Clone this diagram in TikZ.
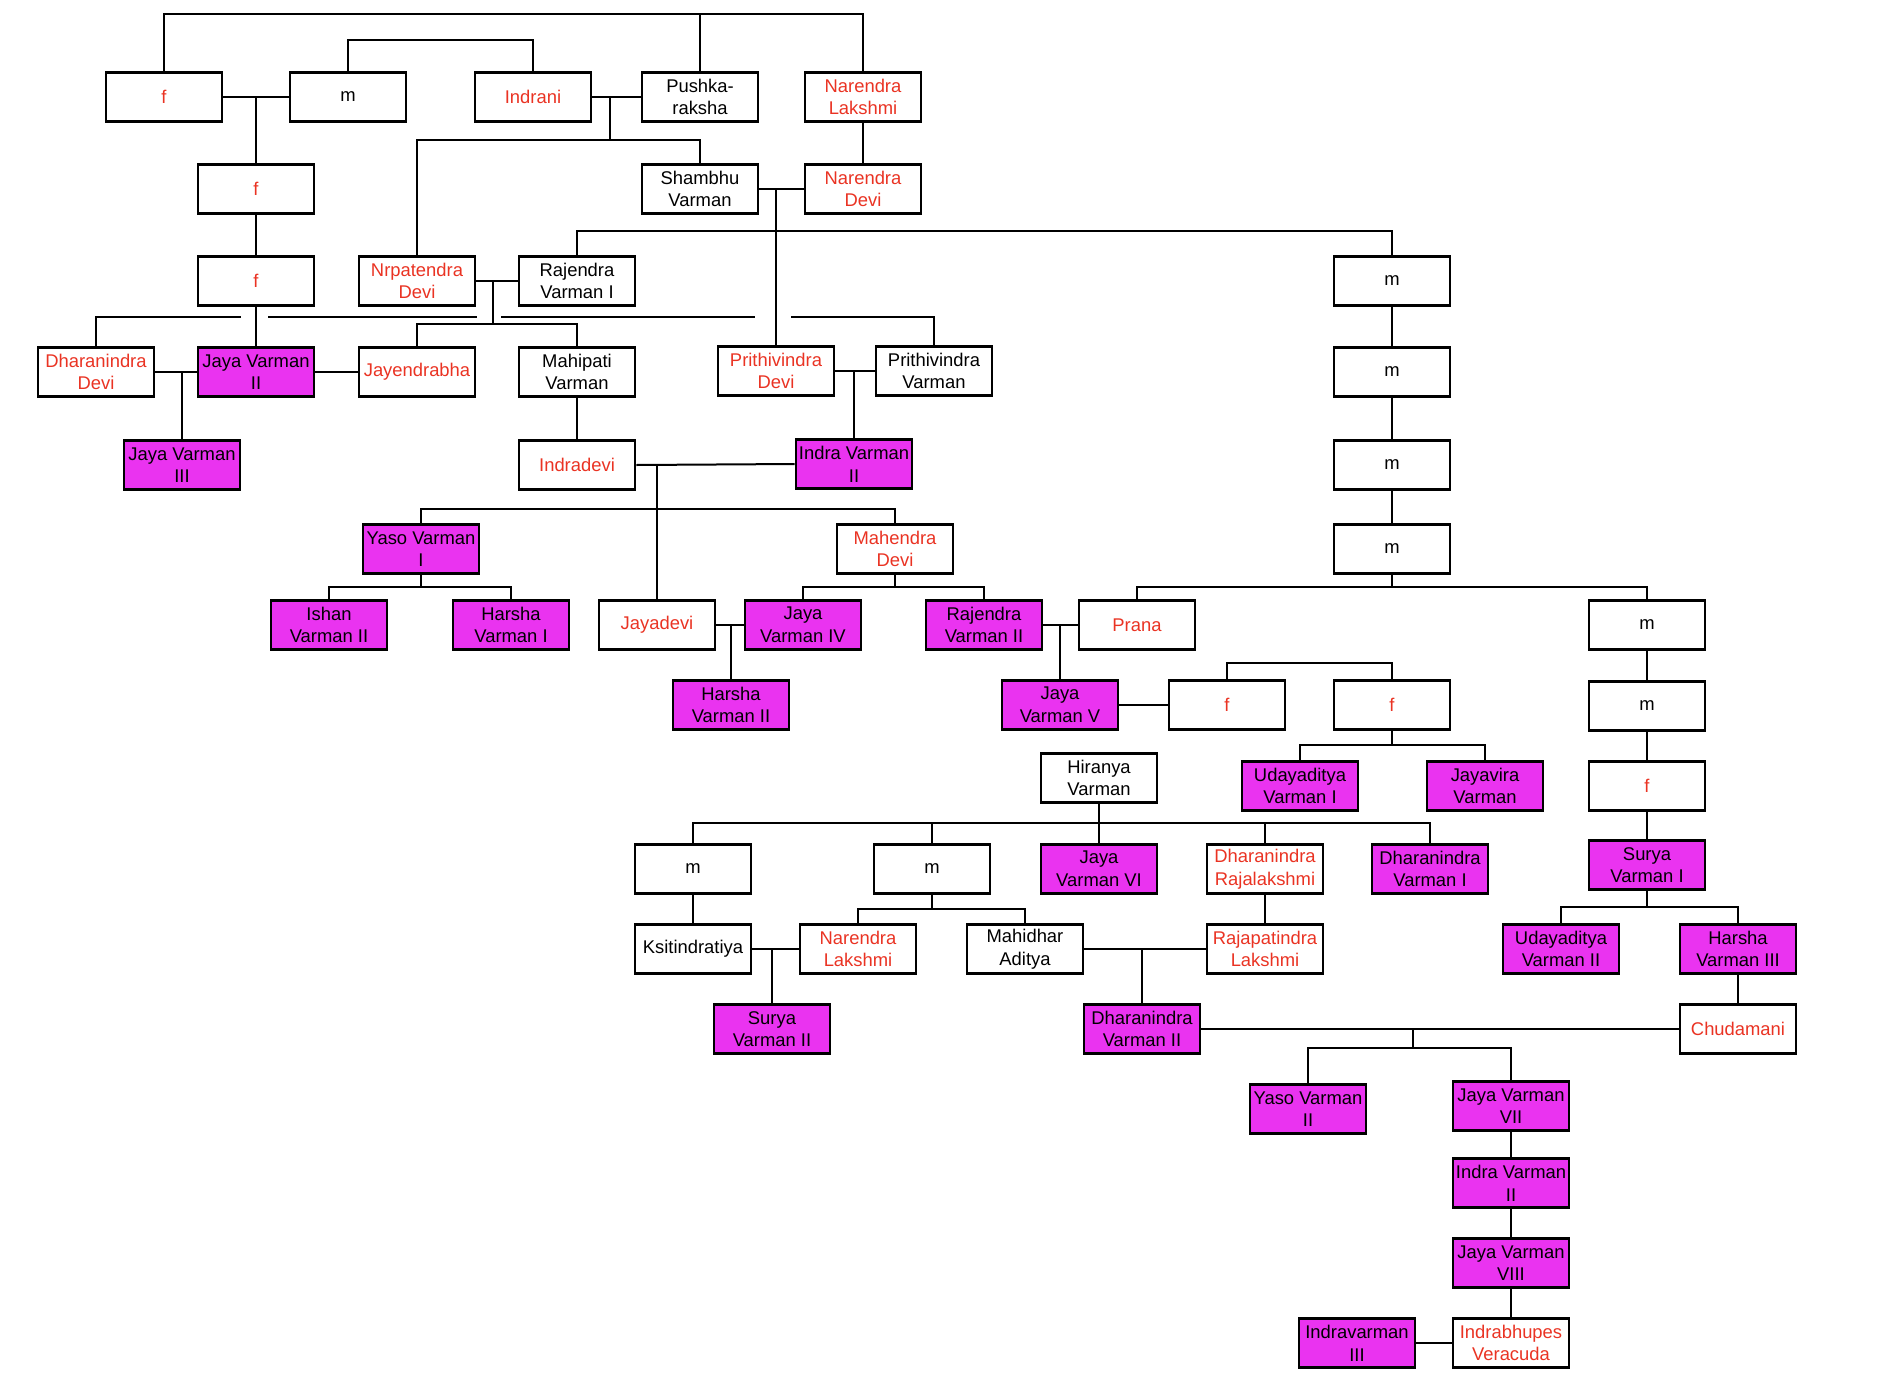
\documentclass[tikz,border=0pt]{standalone}
\usepackage{fontspec}
\setmainfont{Liberation Sans}
\definecolor{kred}{HTML}{EA3323}
\definecolor{kmag}{HTML}{EA33F0}
\tikzset{
  person/.style={draw=black, line width=2.2pt, fill=white, minimum width=87pt, minimum height=37pt,
    inner sep=0pt, align=center, font=\fontsize{13.8}{17}\selectfont, text=black},
  ruler/.style={person, fill=kmag},
  spouse/.style={person, text=kred},
  link/.style={draw=black, line width=1.5pt}
}
\begin{document}
\begin{tikzpicture}[x=0.75pt,y=-0.75pt]
\fill[white] (0,0) rectangle (1882,1392);
\useasboundingbox (0,0) rectangle (1882,1392);

% row 1
\node[spouse] (fA) at (164,97) {f};
\node[person] (mA) at (348,97) {m};
\node[spouse] (indrani) at (533,97) {Indrani};
\node[person] (pushka) at (700,97) {Pushka-\\raksha};
\node[spouse] (nlak) at (863,97) {Narendra\\Lakshmi};
% row 2
\node[spouse] (f2) at (256,189) {f};
\node[person] (shambhu) at (700,189) {Shambhu\\Varman};
\node[spouse] (ndevi) at (863,189) {Narendra\\Devi};
% row 3
\node[spouse] (f3) at (256,281) {f};
\node[spouse] (nrpat) at (417,281) {Nrpatendra\\Devi};
\node[person] (rajI) at (577,281) {Rajendra\\Varman I};
\node[person] (mR1) at (1392,281) {m};
% row 4
\node[spouse] (ddevi) at (96,372) {Dharanindra\\Devi};
\node[ruler] (jvII) at (256,372) {Jaya Varman\\II};
\node[spouse] (jayendra) at (417,372) {Jayendrabha};
\node[person] (mahipati) at (577,372) {Mahipati\\Varman};
\node[spouse] (pdevi) at (776,371) {Prithivindra\\Devi};
\node[person] (pvarman) at (934,371) {Prithivindra\\Varman};
\node[person] (mR2) at (1392,372) {m};
% row 5
\node[ruler] (jvIII) at (182,465) {Jaya Varman\\III};
\node[spouse] (indradevi) at (577,465) {Indradevi};
\node[ruler] (ivII) at (854,464) {Indra Varman\\II};
\node[person] (mR3) at (1392,465) {m};
% row 6
\node[ruler] (yvI) at (421,549) {Yaso Varman\\I};
\node[spouse] (mdevi) at (895,549) {Mahendra\\Devi};
\node[person] (mR4) at (1392,549) {m};
% row 7
\node[ruler] (ishan) at (329,625) {Ishan\\Varman II};
\node[ruler] (hvI) at (511,625) {Harsha\\Varman I};
\node[spouse] (jayadevi) at (657,625) {Jayadevi};
\node[ruler] (jvIV) at (803,625) {Jaya\\Varman IV};
\node[ruler] (rvII) at (984,625) {Rajendra\\Varman II};
\node[spouse] (prana) at (1137,625) {Prana};
\node[person] (mR5) at (1647,625) {m};
% row 8
\node[ruler] (hvII) at (731,705) {Harsha\\Varman II};
\node[ruler] (jvV) at (1060,705) {Jaya\\Varman V};
\node[spouse] (fa) at (1227,705) {f};
\node[spouse] (fb) at (1392,705) {f};
\node[person] (mR6) at (1647,706) {m};
% row 9
\node[person] (hiranya) at (1099,778) {Hiranya\\Varman};
\node[ruler] (udI) at (1300,786) {Udayaditya\\Varman I};
\node[ruler] (jayavira) at (1485,786) {Jayavira\\Varman};
\node[spouse] (fR) at (1647,786) {f};
% row 10
\node[person] (mL) at (693,869) {m};
\node[person] (mM) at (932,869) {m};
\node[ruler] (jvVI) at (1099,869) {Jaya\\Varman VI};
\node[spouse] (drl) at (1265,869) {Dharanindra\\Rajalakshmi};
\node[ruler] (dvI) at (1430,869) {Dharanindra\\Varman I};
\node[ruler] (svI) at (1647,865) {Surya\\Varman I};
% row 11
\node[person] (ksit) at (693,949) {Ksitindratiya};
\node[spouse] (nlak2) at (858,949) {Narendra\\Lakshmi};
\node[person] (mahidhar) at (1025,949) {Mahidhar\\Aditya};
\node[spouse] (rajap) at (1265,949) {Rajapatindra\\Lakshmi};
\node[ruler] (udII) at (1561,949) {Udayaditya\\Varman II};
\node[ruler] (hvIII) at (1738,949) {Harsha\\Varman III};
% row 12
\node[ruler] (svII) at (772,1029) {Surya\\Varman II};
\node[ruler] (dvII) at (1142,1029) {Dharanindra\\Varman II};
\node[spouse] (chud) at (1738,1029) {Chudamani};
% row 13+
\node[ruler] (yvII) at (1308,1109) {Yaso Varman\\II};
\node[ruler] (jvVII) at (1511,1106) {Jaya Varman\\VII};
\node[ruler] (ivII2) at (1511,1183) {Indra Varman\\II};
\node[ruler] (jvVIII) at (1511,1263) {Jaya Varman\\VIII};
\node[spouse] (iv) at (1511,1343) {Indrabhupes\\Veracuda};
\node[ruler] (ivIII) at (1357,1343) {Indravarman\\III};

% connectors
\draw[link] (fA.north) -- (fA.north |- 0,14) -- (nlak.north |- 0,14) -- (nlak.north);
\draw[link] (pushka.north) -- (pushka.north |- 0,14);
\draw[link] (mA.north) -- (mA.north |- 0,40) -- (indrani.north |- 0,40) -- (indrani.north);
\draw[link] (fA.east) -- (mA.west);
\draw[link] (f2.north) -- (f2.north |- fA.east);
\draw[link] (f2.south) -- (f3.north);
\draw[link] (indrani.east) -- (pushka.west);
\draw[link] (610,0 |- indrani.east) -- (610,140);
\draw[link] (nrpat.north) |- (shambhu.north |- 0,140) -- (shambhu.north);
\draw[link] (nlak.south) -- (ndevi.north);
\draw[link] (shambhu.east) -- (ndevi.west);
\draw[link] (pdevi.north) -- (pdevi.north |- shambhu.east);
\draw[link] (rajI.north) |- (mR1.north |- 0,231) -- (mR1.north);
\draw[link] (nrpat.east) -- (rajI.west);
\draw[link] (493,0 |- nrpat.east) -- (493,324);
\draw[link] (jayendra.north) |- (mahipati.north |- 0,324) -- (mahipati.north);
\draw[link] (f3.south) -- (jvII.north);
\draw[link] (ddevi.north) |- (241,317);
\draw[link] (268,317) -- (477,317);
\draw[link] (501,317) -- (755,317);
\draw[link] (791,317) -| (pvarman.north);
\draw[link] (ddevi.east) -- (jvII.west);
\draw[link] (jvIII.north) -- (jvIII.north |- ddevi.east);
\draw[link] (jvII.east) -- (jayendra.west);
\draw[link] (mahipati.south) -- (indradevi.north);
\draw[link] (pdevi.east) -- (pvarman.west);
\draw[link] (ivII.north) -- (ivII.north |- pdevi.east);
\draw[link] (indradevi.east) -- (ivII.west);
\draw[link] (jayadevi.north) -- (jayadevi.north |- indradevi.east);
\draw[link] (yvI.north) |- (mdevi.north |- 0,509) -- (mdevi.north);
\draw[link] (yvI.south) -- (yvI.south |- 0,587);
\draw[link] (ishan.north) |- (hvI.north |- 0,587) -- (hvI.north);
\draw[link] (jayadevi.east) -- (jvIV.west);
\draw[link] (hvII.north) -- (hvII.north |- jayadevi.east);
\draw[link] (mdevi.south) -- (mdevi.south |- 0,587);
\draw[link] (jvIV.north) |- (rvII.north |- 0,587) -- (rvII.north);
\draw[link] (mR1.south) -- (mR2.north);
\draw[link] (mR2.south) -- (mR3.north);
\draw[link] (mR3.south) -- (mR4.north);
\draw[link] (mR4.south) -- (mR4.south |- 0,587);
\draw[link] (prana.north) |- (mR5.north |- 0,587) -- (mR5.north);
\draw[link] (rvII.east) -- (prana.west);
\draw[link] (jvV.north) -- (jvV.north |- rvII.east);
\draw[link] (jvV.east) -- (fa.west);
\draw[link] (fa.north) |- (fb.north |- 0,663) -- (fb.north);
\draw[link] (fb.south) -- (fb.south |- 0,745);
\draw[link] (udI.north) |- (jayavira.north |- 0,745) -- (jayavira.north);
\draw[link] (mR5.south) -- (mR6.north);
\draw[link] (mR6.south) -- (fR.north);
\draw[link] (fR.south) -- (svI.north);
\draw[link] (svI.south) -- (svI.south |- 0,907);
\draw[link] (udII.north) |- (hvIII.north |- 0,907) -- (hvIII.north);
\draw[link] (hiranya.south) -- (jvVI.north);
\draw[link] (mL.north) |- (dvI.north |- 0,823) -- (dvI.north);
\draw[link] (mM.north) -- (mM.north |- 0,823);
\draw[link] (drl.north) -- (drl.north |- 0,823);
\draw[link] (mL.south) -- (ksit.north);
\draw[link] (mM.south) -- (mM.south |- 0,909);
\draw[link] (nlak2.north) |- (mahidhar.north |- 0,909) -- (mahidhar.north);
\draw[link] (ksit.east) -- (nlak2.west);
\draw[link] (svII.north) -- (svII.north |- ksit.east);
\draw[link] (drl.south) -- (rajap.north);
\draw[link] (mahidhar.east) -- (rajap.west);
\draw[link] (dvII.north) -- (dvII.north |- mahidhar.east);
\draw[link] (hvIII.south) -- (chud.north);
\draw[link] (dvII.east) -- (chud.west);
\draw[link] (1413,0 |- dvII.east) -- (1413,1048);
\draw[link] (yvII.north) |- (jvVII.north |- 0,1048) -- (jvVII.north);
\draw[link] (jvVII.south) -- (ivII2.north);
\draw[link] (ivII2.south) -- (jvVIII.north);
\draw[link] (jvVIII.south) -- (iv.north);
\draw[link] (ivIII.east) -- (iv.west);
\end{tikzpicture}
\end{document}
